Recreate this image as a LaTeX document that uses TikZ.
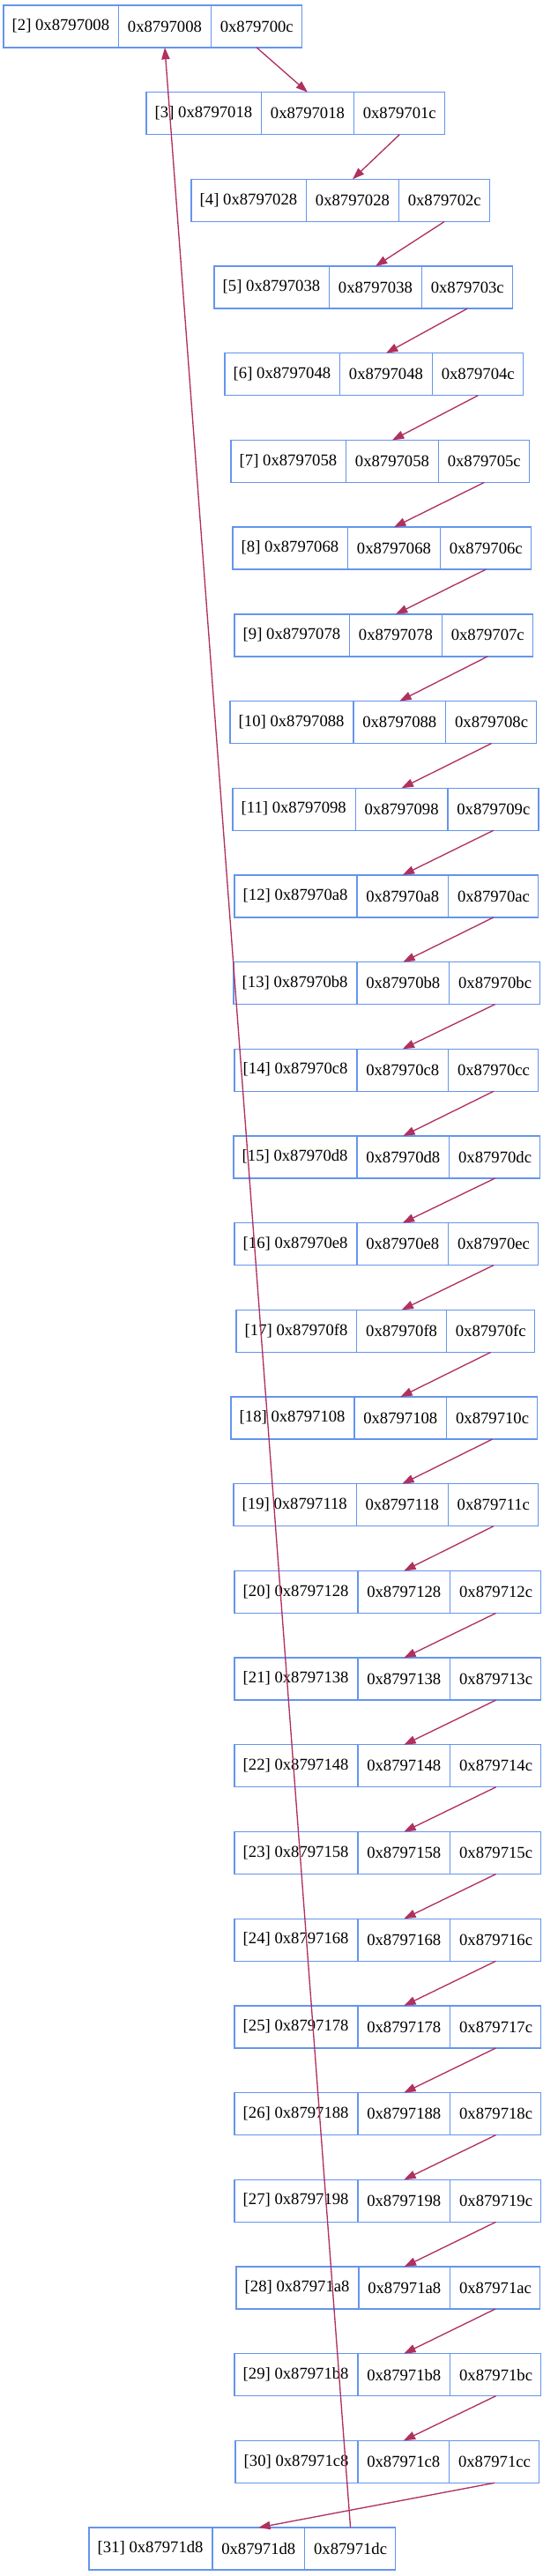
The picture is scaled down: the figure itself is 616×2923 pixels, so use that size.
\documentclass[tikz,border=0pt]{standalone}
\usepackage{fontspec}
\setmainfont{Liberation Serif}
\usepackage{tikz}
\usetikzlibrary{shapes.multipart,arrows.meta}
\definecolor{recblue}{HTML}{6495ED}
\definecolor{linkred}{HTML}{B03060}

\begin{document}
\begin{tikzpicture}[x=0.75pt,y=-0.75pt,
  rec/.style={rectangle split,rectangle split parts=3,rectangle split horizontal,
    draw=recblue,line width=1pt,anchor=north west,outer sep=0pt,
    inner xsep=7.3pt,inner ysep=11.5pt,text height=10pt,text depth=3pt,
    font=\fontsize{14pt}{16pt}\selectfont},
  link/.style={draw=linkred,line width=1pt,-{Triangle[length=10pt,width=7pt]}}]
\useasboundingbox (0,0) rectangle (616,2923);

\def\dy{98.69}  % distance between two records
%\def\x{266}

\node[rec] (b2)  at (4,6)            {[2] 0x8797008 \nodepart{two} 0x8797008 \nodepart{three} 0x879700c};
\node[rec] (b3)  at (166,6+1*\dy)    {[3] 0x8797018 \nodepart{two} 0x8797018 \nodepart{three} 0x879701c};
\node[rec] (b4)  at (217,6+2*\dy)    {[4] 0x8797028 \nodepart{two} 0x8797028 \nodepart{three} 0x879702c};
\node[rec] (b5)  at (243,6+3*\dy)    {[5] 0x8797038 \nodepart{two} 0x8797038 \nodepart{three} 0x879703c};
\node[rec] (b6)  at (255,6+4*\dy)    {[6] 0x8797048 \nodepart{two} 0x8797048 \nodepart{three} 0x879704c};
\node[rec] (b7)  at (262,6+5*\dy)    {[7] 0x8797058 \nodepart{two} 0x8797058 \nodepart{three} 0x879705c};
\node[rec] (b8)  at (264,6+6*\dy)    {[8] 0x8797068 \nodepart{two} 0x8797068 \nodepart{three} 0x879706c};
\node[rec] (b9)  at (266,6+7*\dy)    {[9] 0x8797078 \nodepart{two} 0x8797078 \nodepart{three} 0x879707c};
\node[rec] (b10) at (261,6+8*\dy)    {[10] 0x8797088 \nodepart{two} 0x8797088 \nodepart{three} 0x879708c};
\node[rec] (b11) at (264,6+9*\dy)    {[11] 0x8797098 \nodepart{two} 0x8797098 \nodepart{three} 0x879709c};
\node[rec] (b12) at (266,6+10*\dy)   {[12] 0x87970a8 \nodepart{two} 0x87970a8 \nodepart{three} 0x87970ac};
\node[rec] (b13) at (265,6+11*\dy)   {[13] 0x87970b8 \nodepart{two} 0x87970b8 \nodepart{three} 0x87970bc};
\node[rec] (b14) at (266,6+12*\dy)   {[14] 0x87970c8 \nodepart{two} 0x87970c8 \nodepart{three} 0x87970cc};
\node[rec] (b15) at (265,6+13*\dy)   {[15] 0x87970d8 \nodepart{two} 0x87970d8 \nodepart{three} 0x87970dc};
\node[rec] (b16) at (266,6+14*\dy)   {[16] 0x87970e8 \nodepart{two} 0x87970e8 \nodepart{three} 0x87970ec};
\node[rec] (b17) at (268,6+15*\dy)   {[17] 0x87970f8 \nodepart{two} 0x87970f8 \nodepart{three} 0x87970fc};
\node[rec] (b18) at (262,6+16*\dy)   {[18] 0x8797108 \nodepart{two} 0x8797108 \nodepart{three} 0x879710c};
\node[rec] (b19) at (265,6+17*\dy)   {[19] 0x8797118 \nodepart{two} 0x8797118 \nodepart{three} 0x879711c};
\node[rec] (b20) at (266,6+18*\dy)   {[20] 0x8797128 \nodepart{two} 0x8797128 \nodepart{three} 0x879712c};
\node[rec] (b21) at (266,6+19*\dy)   {[21] 0x8797138 \nodepart{two} 0x8797138 \nodepart{three} 0x879713c};
\node[rec] (b22) at (266,6+20*\dy)   {[22] 0x8797148 \nodepart{two} 0x8797148 \nodepart{three} 0x879714c};
\node[rec] (b23) at (266,6+21*\dy)   {[23] 0x8797158 \nodepart{two} 0x8797158 \nodepart{three} 0x879715c};
\node[rec] (b24) at (266,6+22*\dy)   {[24] 0x8797168 \nodepart{two} 0x8797168 \nodepart{three} 0x879716c};
\node[rec] (b25) at (266,6+23*\dy)   {[25] 0x8797178 \nodepart{two} 0x8797178 \nodepart{three} 0x879717c};
\node[rec] (b26) at (266,6+24*\dy)   {[26] 0x8797188 \nodepart{two} 0x8797188 \nodepart{three} 0x879718c};
\node[rec] (b27) at (266,6+25*\dy)   {[27] 0x8797198 \nodepart{two} 0x8797198 \nodepart{three} 0x879719c};
\node[rec] (b28) at (268,6+26*\dy)   {[28] 0x87971a8 \nodepart{two} 0x87971a8 \nodepart{three} 0x87971ac};
\node[rec] (b29) at (266,6+27*\dy)   {[29] 0x87971b8 \nodepart{two} 0x87971b8 \nodepart{three} 0x87971bc};
\node[rec] (b30) at (267,6+28*\dy)   {[30] 0x87971c8 \nodepart{two} 0x87971c8 \nodepart{three} 0x87971cc};
\node[rec] (b31) at (101,6+29*\dy)   {[31] 0x87971d8 \nodepart{two} 0x87971d8 \nodepart{three} 0x87971dc};

\draw[link] (b2.three south)  -- (b3.two north);
\draw[link] (b3.three south)  -- (b4.two north);
\draw[link] (b4.three south)  -- (b5.two north);
\draw[link] (b5.three south)  -- (b6.two north);
\draw[link] (b6.three south)  -- (b7.two north);
\draw[link] (b7.three south)  -- (b8.two north);
\draw[link] (b8.three south)  -- (b9.two north);
\draw[link] (b9.three south)  -- (b10.two north);
\draw[link] (b10.three south) -- (b11.two north);
\draw[link] (b11.three south) -- (b12.two north);
\draw[link] (b12.three south) -- (b13.two north);
\draw[link] (b13.three south) -- (b14.two north);
\draw[link] (b14.three south) -- (b15.two north);
\draw[link] (b15.three south) -- (b16.two north);
\draw[link] (b16.three south) -- (b17.two north);
\draw[link] (b17.three south) -- (b18.two north);
\draw[link] (b18.three south) -- (b19.two north);
\draw[link] (b19.three south) -- (b20.two north);
\draw[link] (b20.three south) -- (b21.two north);
\draw[link] (b21.three south) -- (b22.two north);
\draw[link] (b22.three south) -- (b23.two north);
\draw[link] (b23.three south) -- (b24.two north);
\draw[link] (b24.three south) -- (b25.two north);
\draw[link] (b25.three south) -- (b26.two north);
\draw[link] (b26.three south) -- (b27.two north);
\draw[link] (b27.three south) -- (b28.two north);
\draw[link] (b28.three south) -- (b29.two north);
\draw[link] (b29.three south) -- (b30.two north);
\draw[link] (b30.three south) -- (b31.two north);
\draw[link] (b31.three north) -- (b2.two south); % back to the first record
\end{tikzpicture}
\end{document}
